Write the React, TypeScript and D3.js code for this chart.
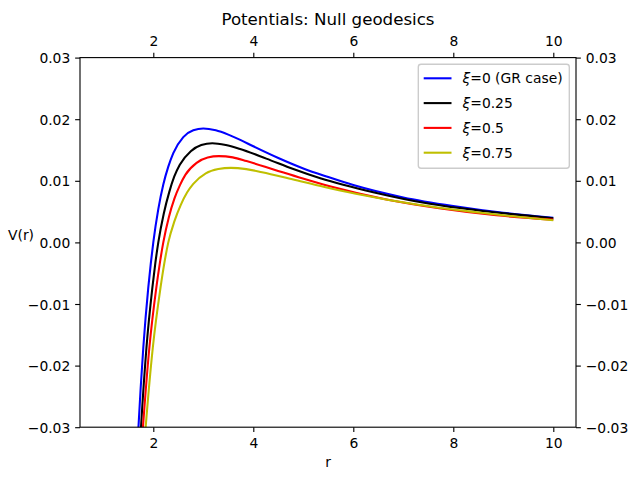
import { useRef, useEffect } from 'react';
import { select, scaleLinear, line, curveMonotoneX, axisBottom, axisLeft, axisRight, axisTop } from 'd3';

// values
const rGR = [1.5, 1.6, 1.7, 1.8, 1.9, 1.95, 2.0, 2.1, 2.2, 2.3, 2.4, 2.6, 2.8, 3.0, 3.25, 3.5, 3.75, 4.0, 4.5, 5.0, 5.5, 6.0, 7.0, 8.0, 9.0, 10.0];
const vGR = [-0.074, -0.0488, -0.0305, -0.0171, -0.0073, -0.0034, 0.0, 0.0054, 0.0094, 0.0123, 0.0145, 0.0171, 0.0182, 0.0185, 0.0182, 0.0175, 0.0166, 0.0156, 0.0137, 0.012, 0.0106, 0.0093, 0.0073, 0.0059, 0.0048, 0.004];

const rXi25 = [1.51, 1.63, 1.754, 1.863, 1.982, 2.04, 2.1, 2.21, 2.32, 2.42, 2.53, 2.75, 2.96, 3.18, 3.45, 3.72, 4.26, 4.8, 5.34, 6.42, 7.5, 8.58, 9.66, 10.0];
const vXi25 = [-0.074, -0.0488, -0.03, -0.0171, -0.0073, -0.0034, 0.0, 0.0047, 0.0082, 0.0107, 0.0126, 0.0148, 0.0158, 0.0161, 0.0158, 0.0152, 0.0136, 0.0119, 0.0104, 0.0081, 0.0063, 0.0051, 0.0042, 0.0039];

const rXi50 = [1.5, 1.64, 1.793, 1.921, 2.061, 2.13, 2.2, 2.311, 2.422, 2.533, 2.644, 2.866, 3.088, 3.31, 3.59, 3.865, 4.42, 4.975, 5.53, 6.64, 7.75, 8.86, 10.0];
const vXi50 = [-0.074, -0.0488, -0.03, -0.0171, -0.0073, -0.0034, 0.0, 0.0041, 0.0071, 0.0093, 0.011, 0.0129, 0.0138, 0.014, 0.0138, 0.0132, 0.0118, 0.0104, 0.0091, 0.007, 0.0055, 0.0044, 0.0037];

const rXi75 = [1.52, 1.68, 1.847, 1.99, 2.145, 2.22, 2.3, 2.425, 2.55, 2.675, 2.8, 3.05, 3.3, 3.55, 3.86, 4.175, 4.8, 5.425, 6.05, 7.3, 8.55, 9.0, 10.0];
const vXi75 = [-0.074, -0.0488, -0.03, -0.0171, -0.0073, -0.0034, 0.0, 0.0035, 0.0061, 0.0081, 0.0095, 0.0112, 0.0119, 0.0121, 0.0119, 0.0114, 0.0102, 0.009, 0.0079, 0.0061, 0.0048, 0.0044, 0.0036];

const xiLabels = ['0 (GR case)', '0.25', '0.5', '0.75'];
const xTicks = [2, 4, 6, 8, 10];
const yTicks = [-0.03, -0.02, -0.01, 0.0, 0.01, 0.02, 0.03];

const colors = ['#0000ff', '#000000', '#ff0000', '#bfbf00'];

const W = 640;
const H = 480;
const M = { left: 80, right: 576, top: 57.6, bottom: 427.2 };
const FONT = 'DejaVu Sans, sans-serif';
const PT = 100 / 72; // matplotlib points -> px at 100 dpi
const FS = 10 * PT;

export default function App() {
  const svgRef = useRef<SVGSVGElement>(null);

  useEffect(() => {
    if (!svgRef.current) return;
    const svg = select(svgRef.current);
    svg.selectAll('*').remove();

    const x = scaleLinear().domain([0.534, 10.454]).range([M.left, M.right]);
    const y = scaleLinear().domain([-0.03, 0.03]).range([M.bottom, M.top]);

    const series = [
      rGR.map((r, i) => [r, vGR[i]] as [number, number]),
      rXi25.map((r, i) => [r, vXi25[i]] as [number, number]),
      rXi50.map((r, i) => [r, vXi50[i]] as [number, number]),
      rXi75.map((r, i) => [r, vXi75[i]] as [number, number]),
    ];

    svg.append('rect').attr('width', W).attr('height', H).attr('fill', 'white');

    svg.append('clipPath').attr('id', 'plot-clip')
      .append('rect')
      .attr('x', M.left).attr('y', M.top)
      .attr('width', M.right - M.left).attr('height', M.bottom - M.top);

    // Lines
    const path = line<[number, number]>()
      .x((d) => x(d[0]))
      .y((d) => y(d[1]))
      .curve(curveMonotoneX);

    const plot = svg.append('g').attr('clip-path', 'url(#plot-clip)');
    series.forEach((s, i) => {
      plot.append('path')
        .datum(s)
        .attr('fill', 'none')
        .attr('stroke', colors[i])
        .attr('stroke-width', 1.5 * PT)
        .attr('stroke-linejoin', 'round')
        .attr('d', path);
    });

    const fmtY = (d: number) => d.toFixed(2).replace('-', '\u2212');
    const styleAxis = (g: any, dy: string) => {
      g.select('.domain').remove();
      g.selectAll('line').attr('stroke', '#000').attr('stroke-width', 0.8 * PT);
      g.selectAll('text')
        .attr('font-family', FONT)
        .attr('font-size', FS)
        .attr('fill', '#000')
        .attr('dy', dy);
    };

    // Axes
    const tick = 3.5 * PT;
    const pad = 3.5 * PT;
    styleAxis(
      svg.append('g').attr('transform', `translate(0,${M.bottom})`)
        .call(axisBottom(x).tickValues(xTicks).tickFormat((d) => String(d)).tickSize(tick).tickPadding(pad)),
      '0.8em'
    );
    styleAxis(
      svg.append('g').attr('transform', `translate(0,${M.top})`)
        .call(axisTop(x).tickValues(xTicks).tickFormat((d) => String(d)).tickSize(tick).tickPadding(pad)),
      '-0.15em'
    );
    styleAxis(
      svg.append('g').attr('transform', `translate(${M.left},0)`)
        .call(axisLeft(y).tickValues(yTicks).tickFormat((d) => fmtY(d as number)).tickSize(tick).tickPadding(pad)),
      '0.36em'
    );
    styleAxis(
      svg.append('g').attr('transform', `translate(${M.right},0)`)
        .call(axisRight(y).tickValues(yTicks).tickFormat((d) => fmtY(d as number)).tickSize(tick).tickPadding(pad)),
      '0.36em'
    );

    // Frame
    svg.append('rect')
      .attr('x', M.left).attr('y', M.top)
      .attr('width', M.right - M.left).attr('height', M.bottom - M.top)
      .attr('fill', 'none').attr('stroke', '#000').attr('stroke-width', 0.8 * PT);

    // Labels
    svg.append('text')
      .attr('x', (M.left + M.right) / 2).attr('y', 24.5)
      .attr('text-anchor', 'middle')
      .attr('font-family', FONT).attr('font-size', 12 * PT)
      .text('Potentials: Null geodesics');
    svg.append('text')
      .attr('x', (M.left + M.right) / 2).attr('y', 466.5)
      .attr('text-anchor', 'middle')
      .attr('font-family', FONT).attr('font-size', FS)
      .text('r');
    svg.append('text')
      .attr('x', 21).attr('y', 240)
      .attr('text-anchor', 'middle')
      .attr('font-family', FONT).attr('font-size', FS)
      .text('V(r)');

    // Legend
    const lg = svg.append('g');
    lg.append('rect')
      .attr('x', 418.3).attr('y', 64.3)
      .attr('width', 151).attr('height', 104)
      .attr('rx', 2.8)
      .attr('fill', 'white').attr('fill-opacity', 0.8)
      .attr('stroke', '#cccccc').attr('stroke-width', PT);
    xiLabels.forEach((lab, i) => {
      const cy = 78.3 + i * 24.8;
      lg.append('line')
        .attr('x1', 423.7).attr('x2', 451.5)
        .attr('y1', cy).attr('y2', cy)
        .attr('stroke', colors[i]).attr('stroke-width', 1.5 * PT);
      const t = lg.append('text')
        .attr('x', 462.5).attr('y', cy + 5)
        .attr('font-family', FONT).attr('font-size', FS);
      t.append('tspan').attr('font-style', 'italic').text('\u03be');
      t.append('tspan').text('=' + lab);
    });
  }, []);

  return (
    <div style={{ position: 'fixed', left: 0, top: 0, width: W, height: H }}>
      <svg ref={svgRef} width={W} height={H} />
    </div>
  );
}
